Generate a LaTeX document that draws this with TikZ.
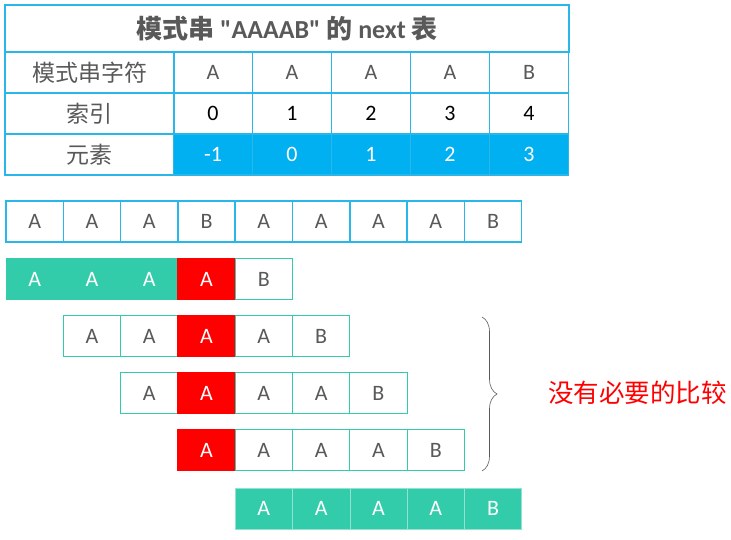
\documentclass[tikz,border=0pt]{standalone}
\usepackage{fontspec}
\setmainfont{Carlito}[Ligatures=TeXOff]
\newfontfamily\cjk{Noto Sans CJK SC}
\usetikzlibrary{positioning, decorations.pathreplacing}
\definecolor{TabCyan}{RGB}{41,182,232}
\definecolor{TabBlue}{RGB}{0,176,240}
\definecolor{MatchGreen}{RGB}{51,204,170}
\definecolor{TextGray}{RGB}{89,89,89}

\begin{document}
\begin{tikzpicture}[x=1pt, y=-1pt, font=\fontsize{22}{26}\selectfont, text=TextGray,
	tcell/.style={draw=TabCyan, line width=1.2pt, minimum width=79pt, minimum height=41pt, inner sep=0pt},
	hcell/.style={tcell, minimum width=169pt, font=\cjk\fontsize{23}{27}\selectfont},
	scell/.style={draw=TabCyan, line width=1.5pt, minimum width=57.3pt, minimum height=41pt, inner sep=0pt},
	pcell/.style={draw=MatchGreen, line width=1pt, minimum width=57.3pt, minimum height=41pt, inner sep=0pt},
	hit/.style={pcell, fill=MatchGreen, text=white},
	miss/.style={pcell, draw=red, fill=red, text=white},
	last/.style={hit, draw=MatchGreen!55!white, line width=0.6pt}]
	\useasboundingbox (0,0) rectangle (731,540);
	% next 表
	\node[tcell, minimum width=564pt, minimum height=47pt, font=\bfseries\fontsize{26}{30}\selectfont] (title) at (287,28.5)
		{{\cjk 模式串} "AAAAB" {\cjk 的} next {\cjk 表}};
	\foreach \r/\lab/\y in {chr/模式串字符/72.5, idx/索引/113.5, val/元素/154.5}
		{\node[hcell] (\r0) at (89.5,\y) {\lab};}
	\foreach \c/\n/\v/\x [count=\i] in {A/0/-1/213, A/1/0/292, A/2/1/371, A/3/2/450, B/4/3/529}{
		\node[tcell] (chr\i) at (\x,72.5) {\c};
		\node[tcell, text=black] (idx\i) at (\x,113.5) {\n};
		\node[tcell, fill=TabBlue, text=white] (val\i) at (\x,154.5) {\v};
	}
	% 主串
	\foreach \c [count=\i] in {A,A,A,B,A,A,A,A,B}
		{\node[scell] (s\i) at ({6+57.3*(\i-0.5)},221.5) {\c};}
	% 模式串的各次移动
	\foreach \r/\y/\off/\sts in {1/279/0/{hit,hit,hit,miss,pcell}, 2/336/1/{pcell,pcell,miss,pcell,pcell},
		3/393/2/{pcell,miss,pcell,pcell,pcell}, 4/450/3/{miss,pcell,pcell,pcell,pcell},
		5/508.5/4/{last,last,last,last,last}}{
		\foreach \st [count=\i] in \sts
			{\node[\st] (p\r-\i) at ({6+57.3*(\i+\off-0.5)},\y) {\ifnum\i=5 B\else A\fi};}
	}
	% 没有必要的比较
	\coordinate (bt) at (482,317);
	\coordinate (bb) at (482,471);
	\draw[decorate, decoration={brace, amplitude=15pt}, TextGray, semithick] (bt) -- (bb);
	\node[anchor=west, inner sep=0pt, text=red, font=\cjk\fontsize{25.5}{30}\selectfont] (note) at (548,393) {没有必要的比较};
\end{tikzpicture}
\end{document}
